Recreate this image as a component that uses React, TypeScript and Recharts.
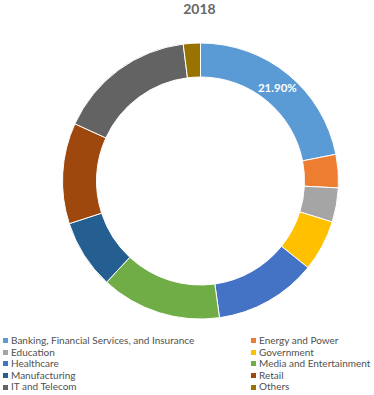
import { PieChart, Pie, Cell, Legend } from "recharts";

const sectors = [
  "Banking, Financial Services, and Insurance",
  "Energy and Power",
  "Education",
  "Government",
  "Healthcare",
  "Media and Entertainment",
  "Manufacturing",
  "Retail",
  "IT and Telecom",
  "Others",
];

const shares = [21.9, 3.9, 4.0, 6.0, 12.0, 14.1, 8.1, 11.8, 16.2, 2.0];

const colors = [
  "#5B9BD5",
  "#ED7D31",
  "#A5A5A5",
  "#FFC000",
  "#4472C4",
  "#70AD47",
  "#255E91",
  "#9E480E",
  "#636363",
  "#997300",
];

const title = "2018";

const data = sectors.map((name, i) => ({ name, value: shares[i] }));

const RAD = Math.PI / 180;

// only the first slice carries a label in the original
function renderLabel(props: any) {
  const { cx, cy, startAngle, endAngle, index, value } = props;
  if (index !== 0) return null;
  const mid = (startAngle + endAngle) / 2;
  const r = 121;
  const x = cx + r * Math.cos(mid * RAD);
  const y = cy - r * Math.sin(mid * RAD);
  return (
    <text
      x={x}
      y={y}
      fill="#fff"
      fontSize={11.5}
      fontWeight="bold"
      textAnchor="middle"
      dominantBaseline="central"
      fontFamily="Lato, sans-serif"
    >
      {value.toFixed(2)}%
    </text>
  );
}

function LegendGrid() {
  return (
    <div
      style={{
        display: "grid",
        gridTemplateColumns: "248px 126px",
        fontFamily: "Lato, sans-serif",
        fontSize: 10,
        color: "#505050",
        lineHeight: "11.6px",
      }}
    >
      {sectors.map((name, i) => (
        <div key={name} style={{ display: "flex", alignItems: "center", whiteSpace: "nowrap", paddingLeft: 3 }}>
          <span style={{ width: 5, height: 5, background: colors[i], marginRight: 3, flex: "none" }} />
          {name}
        </div>
      ))}
    </div>
  );
}

export default function App() {
  return (
    <div style={{ position: "absolute", left: 0, top: 0, width: 374, height: 395, background: "#fff" }}>
      <div
        style={{
          position: "absolute",
          top: 0,
          left: 0,
          width: 399,
          textAlign: "center",
          fontFamily: "Lato, sans-serif",
          fontSize: 14,
          fontWeight: "bold",
          color: "#666",
          lineHeight: "17px",
        }}
      >
        {title}
      </div>
      <PieChart width={374} height={395} margin={{ top: 0, right: 0, bottom: 0, left: 0 }}>
        <Pie
          data={data}
          dataKey="value"
          nameKey="name"
          cx={200.5}
          cy={181}
          innerRadius={104}
          outerRadius={138}
          startAngle={90}
          endAngle={-270}
          stroke="#fff"
          strokeWidth={1}
          label={renderLabel}
          labelLine={false}
          isAnimationActive={false}
        >
          {data.map((d, i) => (
            <Cell key={d.name} fill={colors[i]} />
          ))}
        </Pie>
        <Legend
          verticalAlign="bottom"
          wrapperStyle={{ position: "absolute", left: 0, top: 335, width: 374 }}
          content={() => <LegendGrid />}
        />
      </PieChart>
    </div>
  );
}
